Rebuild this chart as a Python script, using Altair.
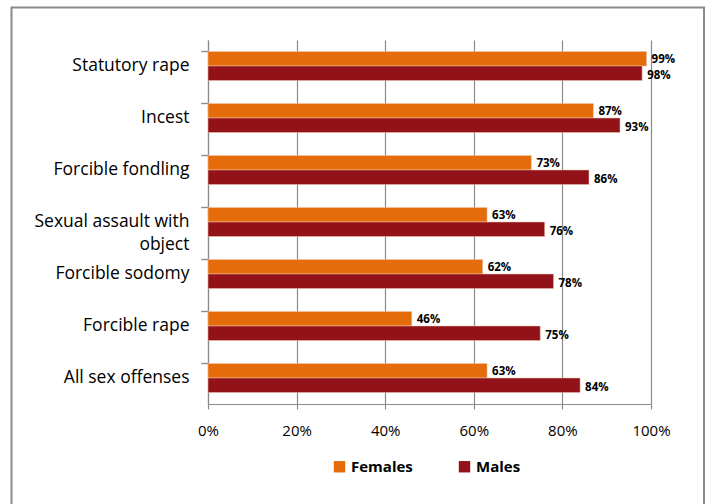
import altair as alt
import pandas as pd

categories = ["Statutory rape", "Incest", "Forcible fondling", "Sexual assault with object",
              "Forcible sodomy", "Forcible rape", "All sex offenses"]
females = [99, 87, 73, 63, 62, 46, 63]
males = [98, 93, 86, 76, 78, 75, 84]
series = ["Females", "Males"]
colors = ["#E46C0A", "#921219"]

rows = []
for c, f, m in zip(categories, females, males):
    rows.append({"category": c, "sex": "Females", "value": f / 100, "label": f"{f}%"})
    rows.append({"category": c, "sex": "Males", "value": m / 100, "label": f"{m}%"})
df = pd.DataFrame(rows)

FONT = "Open Sans"
GRAY = "#8a8a8a"

y_labels = alt.Y(
    "category:N", sort=categories, title=None,
    scale=alt.Scale(paddingInner=0.44, paddingOuter=0.22),
    axis=alt.Axis(orient="left", ticks=False, domain=True, domainColor=GRAY, domainWidth=1.2,
                  labelFont=FONT, labelFontSize=17.5, labelColor="#000000", labelPadding=19,
                  labelAlign="right", labelLineHeight=23,
                  labelExpr="datum.label == 'Sexual assault with object' ? ['Sexual assault with', 'object'] : datum.label"),
)
y_ticks = alt.Y(
    "category:N", sort=categories, title=None,
    scale=alt.Scale(paddingInner=0.44, paddingOuter=0.22),
    axis=alt.Axis(orient="left", ticks=True, tickSize=7, tickColor=GRAY, tickWidth=1.2,
                  bandPosition=0, labels=False, domain=False, grid=False),
)
x_enc = alt.X(
    "value:Q", title=None,
    scale=alt.Scale(domain=[0, 1], nice=False),
    axis=alt.Axis(values=[0, 0.2, 0.4, 0.6, 0.8, 1.0], format=".0%", grid=True, gridColor=GRAY,
                  gridWidth=1.2, domainColor=GRAY, domainWidth=1.2, tickColor=GRAY, tickSize=5,
                  tickWidth=1.2, labelFont=FONT, labelFontSize=15, labelColor="#000000",
                  labelPadding=14, labelFlush=False, labelOverlap=False),
)
color_enc = alt.Color(
    "sex:N", scale=alt.Scale(domain=series, range=colors), title=None,
    legend=alt.Legend(orient="none", legendX=124, legendY=419, direction="horizontal",
                      symbolType="square", symbolSize=130, symbolStrokeWidth=0,
                      labelFont=FONT, labelFontSize=15, labelFontWeight="bold",
                      labelColor="#000000", labelOffset=4, columnPadding=44),
)

border = alt.Chart(pd.DataFrame({"a": [0]})).mark_rect(
    fill="transparent", stroke=GRAY, strokeWidth=2
).encode(x=alt.value(-196.5), x2=alt.value(496), y=alt.value(-32.5), y2=alt.value(480))

bars = alt.Chart(df).mark_bar(stroke="#f0c8b0", strokeWidth=0.5).encode(
    x=x_enc, y=y_labels,
    yOffset=alt.YOffset("sex:N", sort=series, scale=alt.Scale(paddingInner=0, paddingOuter=0)),
    color=color_enc,
)


def label_layer(sex, dy):
    return alt.Chart(df).transform_filter(alt.datum.sex == sex).mark_text(
        align="left", baseline="middle", dx=5, dy=dy, font=FONT, fontSize=11.5, fontWeight="bold",
        color="#000000"
    ).encode(
        x=alt.X("value:Q"),
        y=y_ticks,
        yOffset=alt.YOffset("sex:N", sort=series, scale=alt.Scale(domain=series, paddingInner=0, paddingOuter=0)),
        text="label:N",
    )


chart = alt.layer(border, bars, label_layer("Females", 1), label_layer("Males", 3)).resolve_axis(
    y="independent"
).properties(
    width=443, height=364,
    autosize=alt.AutoSizeParams(type="none"),
    padding={"left": 208, "top": 40, "right": 58, "bottom": 100},
    background="#ffffff",
).configure_view(stroke=None)

chart.save("out.html", embed_options={"renderer": "svg", "actions": False})
